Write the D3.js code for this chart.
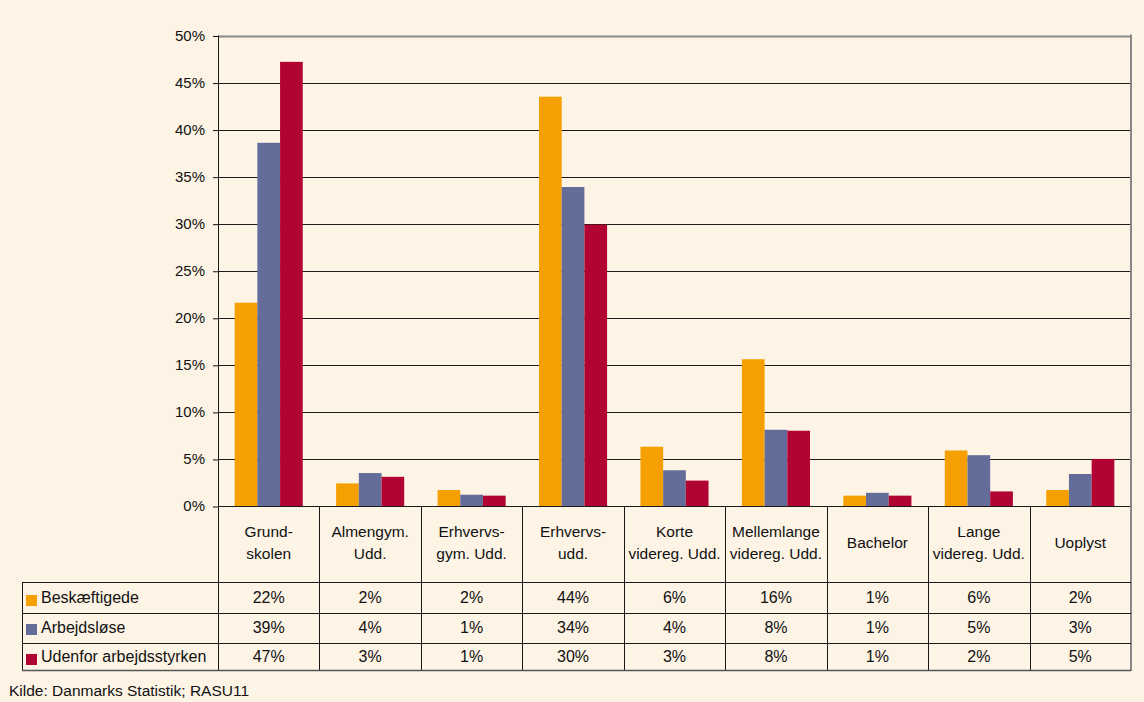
<!DOCTYPE html>
<html>
<head>
  <meta charset="utf-8">
  <title>Uddannelse</title>
  <script src="https://d3js.org/d3.v7.min.js"></script>
  <style>
    body { margin: 0; background: #fdf4e6; }
    svg { font-family: Arial, "Liberation Sans", sans-serif; }
    .axis text { fill: #111; font-size: 15px; }
    .axis path { display: none; }
    .axis line { stroke: #111; }
    .grid line { stroke: #1a1a1a; }
    .tbl line { stroke: #1a1a1a; }
    .tbl text { fill: #111; font-size: 16px; }
  </style>
</head>
<body>
<script>
// kategorier (to linjer pr. overskrift)
var categories = [
  ['Grund-', 'skolen'],
  ['Almengym.', 'Udd.'],
  ['Erhvervs-', 'gym. Udd.'],
  ['Erhvervs-', 'udd.'],
  ['Korte', 'videreg. Udd.'],
  ['Mellemlange', 'videreg. Udd.'],
  ['Bachelor'],
  ['Lange', 'videreg. Udd.'],
  ['Uoplyst']
];
var seriesNames = ['Beskæftigede', 'Arbejdsløse', 'Udenfor arbejdsstyrken'];
var colors = ['#f5a000', '#646c9a', '#b20433'];

// værdier aflæst fra søjlerne (andel)
var beskaeftigede = [0.216, 0.024, 0.017, 0.435, 0.063, 0.156, 0.011, 0.059, 0.017];
var arbejdsloese  = [0.386, 0.035, 0.012, 0.339, 0.038, 0.081, 0.014, 0.054, 0.034];
var udenfor       = [0.472, 0.031, 0.011, 0.299, 0.027, 0.080, 0.011, 0.0155, 0.050];

// tabelværdier som de står i tabellen
var tblBeskaeftigede = ['22%', '2%', '2%', '44%', '6%', '16%', '1%', '6%', '2%'];
var tblArbejdsloese  = ['39%', '4%', '1%', '34%', '4%', '8%', '1%', '5%', '3%'];
var tblUdenfor       = ['47%', '3%', '1%', '30%', '3%', '8%', '1%', '2%', '5%'];

var yTicks = [0, 0.05, 0.1, 0.15, 0.2, 0.25, 0.3, 0.35, 0.4, 0.45, 0.5];

var values = [beskaeftigede, arbejdsloese, udenfor];
var tblRows = [tblBeskaeftigede, tblArbejdsloese, tblUdenfor];

var W = 1144, H = 702;
var LEFT = 218, RIGHT = 1131, TOP = 35.5, BASE = 506;
var TBL_LEFT = 22;
var rowLines = [582, 613, 643, 670];

var svg = d3.select('body').append('svg')
  .attr('width', W)
  .attr('height', H);

var x = d3.scaleBand()
  .domain(d3.range(categories.length))
  .range([LEFT, RIGHT])
  .padding(0);

var xInner = d3.scaleBand()
  .domain(d3.range(seriesNames.length))
  .range([0, x.bandwidth()])
  .paddingInner(0)
  .paddingOuter(0.735);

var y = d3.scaleLinear()
  .domain([0, 0.5])
  .range([BASE, TOP]);

// vandrette gitterlinjer
svg.append('g').attr('class', 'grid')
  .selectAll('line').data(yTicks).enter().append('line')
  .attr('x1', LEFT).attr('x2', RIGHT)
  .attr('y1', function(d) { return Math.round(y(d)) + 0.5; })
  .attr('y2', function(d) { return Math.round(y(d)) + 0.5; })
  .style('stroke', function(d) { return d === 0.5 ? '#888' : null; })
  .style('stroke-width', function(d) { return d === 0.5 ? 2 : 1; });

// søjler
var groups = svg.append('g').selectAll('g')
  .data(categories).enter().append('g')
  .attr('transform', function(d, i) { return 'translate(' + x(i) + ',0)'; });

groups.selectAll('rect')
  .data(function(d, i) { return values.map(function(s) { return s[i]; }); })
  .enter().append('rect')
  .attr('x', function(d, j) { return xInner(j); })
  .attr('width', xInner.bandwidth())
  .attr('y', function(d) { return y(d); })
  .attr('height', function(d) { return y(0) - y(d); })
  .attr('fill', function(d, j) { return colors[j]; });

// y-akse
var yAxis = d3.axisLeft(y)
  .tickValues(yTicks)
  .tickSize(5)
  .tickPadding(8)
  .tickFormat(d3.format('.0%'));

svg.append('g').attr('class', 'axis')
  .attr('transform', 'translate(' + LEFT + ',0)')
  .call(yAxis)
  .selectAll('line')
  .attr('transform', 'translate(0,0.5)');

// tabel
var tbl = svg.append('g').attr('class', 'tbl');

// lodret venstre linje og kategoriskillelinjer
tbl.append('line')
  .attr('x1', LEFT + 0.5).attr('x2', LEFT + 0.5)
  .attr('y1', TOP).attr('y2', rowLines[3]);

tbl.selectAll('line.sep')
  .data(d3.range(1, categories.length)).enter().append('line')
  .attr('class', 'sep')
  .attr('x1', function(i) { return Math.round(x(i)) + 0.5; })
  .attr('x2', function(i) { return Math.round(x(i)) + 0.5; })
  .attr('y1', BASE).attr('y2', rowLines[3]);

// højre kant (grå)
tbl.append('line')
  .attr('x1', RIGHT).attr('x2', RIGHT)
  .attr('y1', TOP - 1).attr('y2', rowLines[3] + 1)
  .style('stroke', '#888').style('stroke-width', 2);

tbl.append('line')
  .attr('x1', TBL_LEFT + 0.5).attr('x2', TBL_LEFT + 0.5)
  .attr('y1', rowLines[0]).attr('y2', rowLines[3]);

tbl.selectAll('line.row')
  .data(rowLines).enter().append('line')
  .attr('class', 'row')
  .attr('x1', TBL_LEFT).attr('x2', RIGHT)
  .attr('y1', function(d) { return d + 0.5; })
  .attr('y2', function(d) { return d + 0.5; })
  .style('stroke', function(d, i) { return i === 3 ? '#555' : null; })
  .style('stroke-width', function(d, i) { return i === 3 ? 1.5 : 1; });

// kategorioverskrifter
groups.each(function(lines, i) {
  var g = d3.select(this);
  var top = lines.length === 1 ? 548 : 537;
  lines.forEach(function(t, k) {
    g.append('text')
      .attr('x', x.bandwidth() / 2)
      .attr('y', top + k * 22)
      .attr('text-anchor', 'middle')
      .attr('fill', '#111')
      .style('font-size', '15.5px')
      .text(t);
  });
});

// tabelrækker
var rowBase = [603, 633, 662];
var boxTop = [595, 624, 654];
seriesNames.forEach(function(name, r) {
  tbl.append('rect')
    .attr('x', 26).attr('y', boxTop[r])
    .attr('width', 11).attr('height', 11)
    .attr('fill', colors[r]);
  tbl.append('text')
    .attr('x', 41).attr('y', rowBase[r])
    .text(name);
  tbl.selectAll(null)
    .data(tblRows[r]).enter().append('text')
    .attr('x', function(d, i) { return x(i) + x.bandwidth() / 2; })
    .attr('y', rowBase[r])
    .attr('text-anchor', 'middle')
    .text(function(d) { return d; });
});

// kilde
svg.append('text')
  .attr('x', 9).attr('y', 696)
  .attr('fill', '#111')
  .style('font-size', '15.5px')
  .text('Kilde: Danmarks Statistik; RASU11');
</script>
</body>
</html>
